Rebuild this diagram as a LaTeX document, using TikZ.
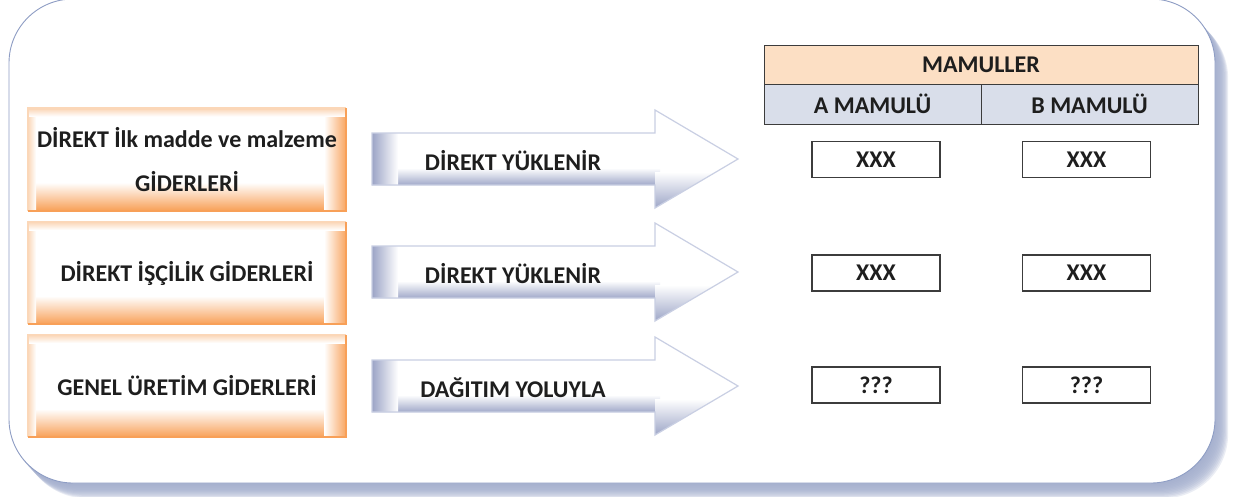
\documentclass[tikz,border=0pt]{standalone}
\usepackage{fontspec}
\setmainfont{Carlito}
\usetikzlibrary{calc}
\definecolor{orng}{HTML}{F79646}
\definecolor{orngl}{HTML}{FBD7B8}
\definecolor{hdr}{HTML}{FCDFC4}
\definecolor{subc}{HTML}{D9DEEA}
\definecolor{frm}{HTML}{8E9DC4}
\definecolor{shd}{HTML}{A3AECD}
\definecolor{arb}{HTML}{C9CFE3}
\definecolor{ard}{HTML}{9BA4C6}
\definecolor{txt}{HTML}{1E1E1E}
\definecolor{tline}{HTML}{3C3C3C}
\tikzset{
  lbl/.style={font=\bfseries\fontsize{24}{44}\selectfont, text=txt, align=center, inner sep=0pt},
  obox/.style={minimum width=318pt, minimum height=102pt, inner sep=0pt, lbl,
    path picture={
      \fill[white] (path picture bounding box.south west) rectangle (path picture bounding box.north east);
      \shade[top color=white, bottom color=orng!90] ($(path picture bounding box.south west)+(0,-28)$) rectangle (path picture bounding box.south east);
      \shade[left color=white, right color=orng!85] ($(path picture bounding box.north east)+(-22,0)$) rectangle (path picture bounding box.south east);
      \shade[left color=orngl, right color=white] (path picture bounding box.north west) rectangle ($(path picture bounding box.south west)+(8,0)$);
      \shade[top color=orngl, bottom color=white] (path picture bounding box.north west) rectangle ($(path picture bounding box.north east)+(0,8)$);
    }},
  tcell/.style={draw=tline, line width=1pt, inner sep=0pt, lbl},
  vbox/.style={draw=tline, line width=1.1pt, fill=white, minimum width=128pt, minimum height=36pt, inner sep=0pt, lbl},
}
\begin{document}
\begin{tikzpicture}[x=1pt,y=-1pt]
\useasboundingbox (0,0) rectangle (1242,496);
% frame shadow
\foreach \i in {0,...,11}{
  \fill[shd,opacity=0.22,rounded corners=64pt] (9+1+\i*1.1,-1+2+\i*1.2) rectangle (1215+1+\i*1.1,483+2+\i*1.2);
}
\draw[frm, line width=0.9pt, fill=white, rounded corners=64pt] (9,-1) rectangle (1215,483);

% left orange boxes
\node[obox] (g1) at (187,159.5) {DİREKT İlk madde ve malzeme\\GİDERLERİ};
\node[obox] (g2) at (187,273) {DİREKT İŞÇİLİK GİDERLERİ};
\node[obox] (g3) at (187,386) {GENEL ÜRETİM GİDERLERİ};
\foreach \n in {g1,g2,g3}{
  \draw[orngl, line width=2.5pt] (\n.south west) -- (\n.north west) -- (\n.north east);
  \draw[orng!90, line width=2pt] (\n.north east) -- (\n.south east) -- (\n.south west);
}

% arrows
\foreach \dy/\nm in {0/a1,113/a2,227/a3}{
  \fill[white] (372,133+\dy) -- (655,133+\dy) -- (655,110+\dy) -- (738,159+\dy) -- (655,208+\dy) -- (655,185+\dy) -- (372,185+\dy) -- cycle;
  \begin{scope}
    \clip (372,133+\dy) -- (655,133+\dy) -- (655,110+\dy) -- (738,159+\dy) -- (655,208+\dy) -- (655,185+\dy) -- (372,185+\dy) -- cycle;
    \shade[top color=white, bottom color=ard] (372,168+\dy) rectangle (660,186+\dy);
    \shade[top color=white, bottom color=ard] (655,172+\dy) rectangle (740,209+\dy);
    \shade[left color=ard, right color=white] (372,133+\dy) rectangle (398,186+\dy);
  \end{scope}
  \draw[arb, line width=1.2pt] (372,133+\dy) -- (655,133+\dy) -- (655,110+\dy) -- (738,159+\dy) -- (655,208+\dy) -- (655,185+\dy) -- (372,185+\dy) -- cycle;
  \coordinate (\nm) at (513,161+\dy);
}
\node[lbl] (t1) at (a1) {DİREKT YÜKLENİR};
\node[lbl] (t2) at (a2) {DİREKT YÜKLENİR};
\node[lbl] (t3) at (a3) {DAĞITIM YOLUYLA};

% table
\node[tcell, fill=hdr, minimum width=434pt, minimum height=39pt] (mam) at (981,64.5) {MAMULLER};
\node[tcell, fill=subc, minimum width=217pt, minimum height=40pt] (am) at (872.5,104) {A MAMULÜ};
\node[tcell, fill=subc, minimum width=217pt, minimum height=40pt] (bm) at (1089.5,104) {B MAMULÜ};

% value boxes
\node[vbox] (a1v) at (876,159.5) {XXX};
\node[vbox] (b1v) at (1086.5,159.5) {XXX};
\node[vbox] (a2v) at (876,273) {XXX};
\node[vbox] (b2v) at (1086.5,273) {XXX};
\node[vbox] (a3v) at (876,385) {???};
\node[vbox] (b3v) at (1086.5,385) {???};
\end{tikzpicture}
\end{document}
